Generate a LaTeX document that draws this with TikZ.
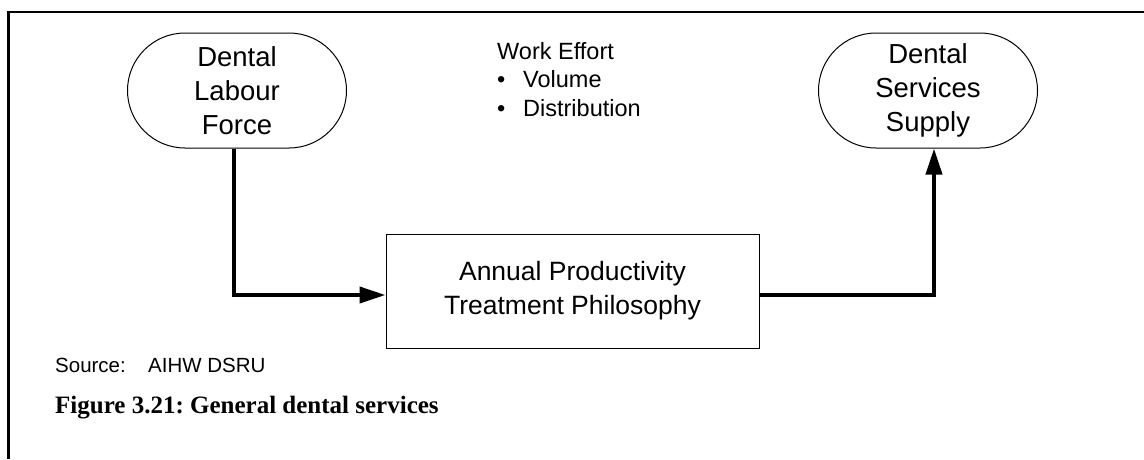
\documentclass[tikz,border=0pt]{standalone}
\usepackage{fontspec}
\setmainfont{Liberation Sans}
\newfontfamily\captionserif{Liberation Serif}
\usetikzlibrary{arrows.meta,shapes.misc}
\tikzset{
  stadium/.style={rounded rectangle,draw,line width=1pt,minimum width=219pt,minimum height=115pt,
    inner sep=0pt,align=center,font=\fontsize{27.5}{34}\selectfont},
  flow/.style={line width=4pt,-{Triangle[length=26pt,width=16pt]}},
}
\frenchspacing
\begin{document}
\begin{tikzpicture}[x=1pt,y=-1pt]
  \useasboundingbox (0,0) rectangle (1144,459);
  \draw[line width=2.6pt] (8.7,459)--(8.7,12)--(1144,12);
  \node[stadium] (labour) at (237,90.5) {Dental\\Labour\\Force};
  \node[stadium] (supply) at (928,90.5) {Dental\\Services\\Supply};
  \node[draw,line width=1pt,minimum width=373pt,minimum height=114pt,align=center,
    font=\fontsize{26.5}{34}\selectfont] (prod) at (572.5,291) {Annual Productivity\\Treatment Philosophy};
  \node[anchor=north west,inner sep=0pt,align=left,font=\fontsize{23.5}{28.5}\selectfont] (effort) at (497,42)
    {Work Effort\\\makebox[26pt][l]{\textbullet}Volume\\\makebox[26pt][l]{\textbullet}Distribution};
  \draw[flow] ([xshift=-3pt]labour.south) |- ([yshift=-4pt]prod.west);
  \draw[flow] ([yshift=-4pt]prod.east) -| ([xshift=6pt]supply.south);
  \node[anchor=base west,inner sep=0pt,font=\fontsize{20.5}{24}\selectfont] (source) at (55,372)
    {\makebox[93pt][l]{Source:}AIHW DSRU};
  \node[anchor=base west,inner sep=0pt,font=\captionserif\bfseries\fontsize{25}{30}\selectfont] (caption) at (55,413)
    {Figure 3.21: General dental services};
\end{tikzpicture}
\end{document}
